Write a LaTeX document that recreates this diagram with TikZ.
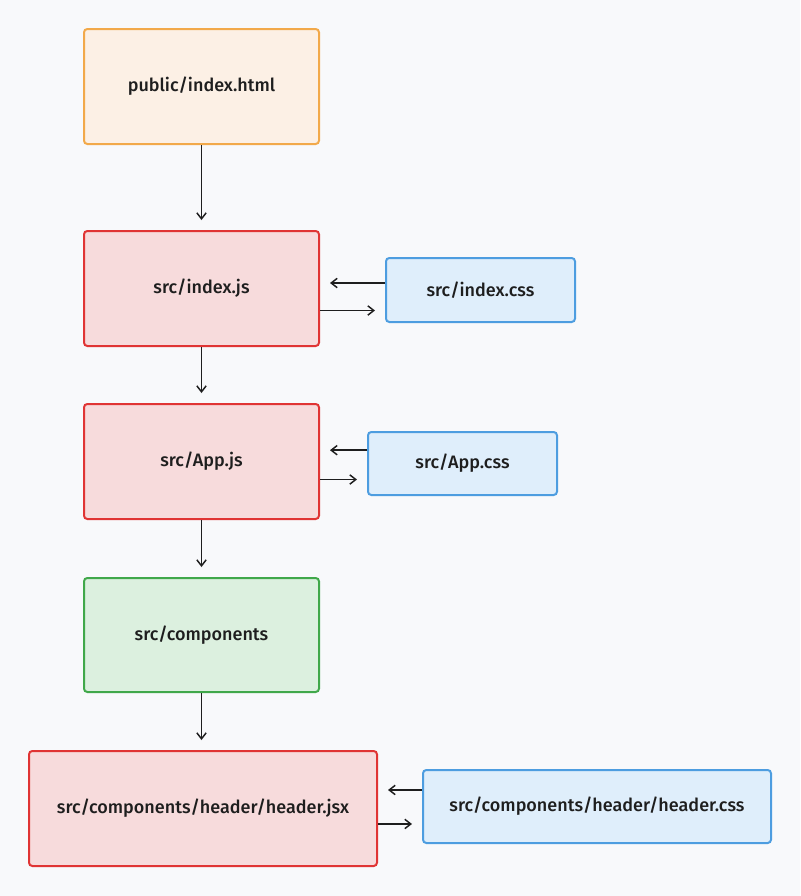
\documentclass[tikz,border=0pt]{standalone}
\usepackage{fontspec}
\setmainfont{Fira Sans Medium}
\usetikzlibrary{arrows.meta}
\definecolor{bg}{HTML}{F8F9FB}
\definecolor{orB}{HTML}{F2A94A}
\definecolor{orF}{HTML}{FCF0E5}
\definecolor{rdB}{HTML}{E03434}
\definecolor{rdF}{HTML}{F7DBDC}
\definecolor{blB}{HTML}{4D9DE0}
\definecolor{blF}{HTML}{DFEEFB}
\definecolor{grB}{HTML}{40A84A}
\definecolor{grF}{HTML}{DCF0DF}
\definecolor{ink}{HTML}{1E1E1E}
\begin{document}
\begin{tikzpicture}[x=0.75pt,y=-0.75pt,
  box/.style={draw,line width=1.5pt,rounded corners=2.5pt,inner sep=0pt,
    font=\fontsize{13.5}{16}\selectfont,text=ink},
  orbox/.style={box,draw=orB,fill=orF},
  rdbox/.style={box,draw=rdB,fill=rdF},
  blbox/.style={box,draw=blB,fill=blF},
  grbox/.style={box,draw=grB,fill=grF},
  arr/.style={draw=ink,line width=1.1pt,-{Straight Barb[length=4.5pt,width=7pt]}}]
\fill[bg] (0,0) rectangle (800,896);
\useasboundingbox (0,0) rectangle (800,896);

\node[orbox,minimum width=235*0.75pt,minimum height=115*0.75pt] (html) at (201.5,86.5) {public/index.html};
\node[rdbox,minimum width=235*0.75pt,minimum height=115*0.75pt] (ijs) at (201.5,288.5) {src/index.js};
\node[blbox,minimum width=189*0.75pt,minimum height=64*0.75pt] (icss) at (480.5,290) {src/index.css};
\node[rdbox,minimum width=235*0.75pt,minimum height=115*0.75pt] (ajs) at (201.5,461.5) {src/App.js};
\node[blbox,minimum width=189*0.75pt,minimum height=63*0.75pt] (acss) at (462.5,463.5) {src/App.css};
\node[grbox,minimum width=235*0.75pt,minimum height=114*0.75pt] (comp) at (201.5,635) {src/components};
\node[rdbox,minimum width=348*0.75pt,minimum height=115*0.75pt] (hjsx) at (203,808.5) {src/components/header/header.jsx};
\node[blbox,minimum width=348*0.75pt,minimum height=73*0.75pt] (hcss) at (597,806.5) {src/components/header/header.css};

% vertical arrows
\draw[arr,shorten >=10*0.75pt] (html.south) -- (ijs.north);
\draw[arr,shorten >=10*0.75pt] (ijs.south) -- (ajs.north);
\draw[arr,shorten >=10*0.75pt] (ajs.south) -- (comp.north);
\draw[arr,shorten >=10*0.75pt] (comp.south) -- (comp.south |- hjsx.north);

% side arrows
\coordinate (a1) at ([yshift=5.25pt]icss.west);
\coordinate (a2) at ([yshift=-16.5pt]ijs.east);
\draw[arr,shorten >=10*0.75pt] (a1) -- (a1 -| ijs.east);
\draw[arr,shorten >=10*0.75pt] (a2) -- (a2 -| icss.west);

\coordinate (b1) at ([yshift=10pt]acss.west);
\coordinate (b2) at ([yshift=-13.5pt]ajs.east);
\draw[arr,shorten >=10*0.75pt] (b1) -- (b1 -| ajs.east);
\draw[arr,shorten >=10*0.75pt] (b2) -- (b2 -| acss.west);

\coordinate (c1) at ([yshift=12.4pt]hcss.west);
\coordinate (c2) at ([yshift=-11.6pt]hjsx.east);
\draw[arr,shorten >=10*0.75pt] (c1) -- (c1 -| hjsx.east);
\draw[arr,shorten >=10*0.75pt] (c2) -- (c2 -| hcss.west);
\end{tikzpicture}
\end{document}
